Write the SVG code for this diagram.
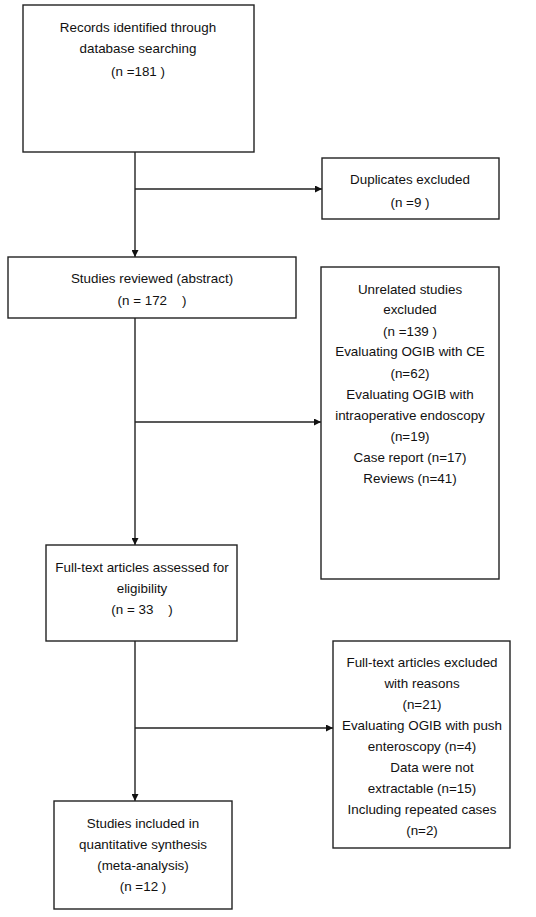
<svg xmlns="http://www.w3.org/2000/svg" width="536" height="917" viewBox="0 0 536 917">
<style>
.box{fill:#fff;stroke:#222;stroke-width:1.4}
.t{font-family:"Liberation Sans",Arial,sans-serif;font-size:13.4px;fill:#111;text-anchor:middle;white-space:pre}
.c{fill:none;stroke:#222;stroke-width:1.4}
</style>
<defs>
<marker id="ah" viewBox="0 0 10 10" refX="10" refY="5" markerWidth="7" markerHeight="7" markerUnits="userSpaceOnUse" orient="auto">
<path d="M0,0 L10,5 L0,10 z" fill="#111"/>
</marker>
</defs>
<rect width="536" height="917" fill="#fff"/>
<g id="connectors">
<path class="c" d="M135,152 V257" marker-end="url(#ah)"/>
<path class="c" d="M135,189 H322" marker-end="url(#ah)"/>
<path class="c" d="M135,318 V545" marker-end="url(#ah)"/>
<path class="c" d="M135,422 H321" marker-end="url(#ah)"/>
<path class="c" d="M135,641 V801" marker-end="url(#ah)"/>
<path class="c" d="M135,728 H333" marker-end="url(#ah)"/>
</g>
<g id="records">
<rect class="box" x="23" y="5" width="231" height="147"/>
<text class="t" x="138" y="32">Records identified through</text>
<text class="t" x="138" y="53">database searching</text>
<text class="t" x="138" y="76">(n =181 )</text>
</g>
<g id="duplicates">
<rect class="box" x="322" y="158" width="177" height="61"/>
<text class="t" x="410" y="184">Duplicates excluded</text>
<text class="t" x="410" y="207">(n =9 )</text>
</g>
<g id="reviewed">
<rect class="box" x="8" y="257" width="288" height="61"/>
<text class="t" x="152" y="283">Studies reviewed (abstract)</text>
<text class="t" x="152" y="305">(n = 172    )</text>
</g>
<g id="unrelated">
<rect class="box" x="321" y="267" width="178" height="312"/>
<text class="t" x="410" y="294">Unrelated studies</text>
<text class="t" x="410" y="314">excluded</text>
<text class="t" x="410" y="336">(n =139 )</text>
<text class="t" x="410" y="356">Evaluating OGIB with CE</text>
<text class="t" x="410" y="378">(n=62)</text>
<text class="t" x="410" y="399">Evaluating OGIB with</text>
<text class="t" x="410" y="420">intraoperative endoscopy</text>
<text class="t" x="410" y="441">(n=19)</text>
<text class="t" x="410" y="462">Case report (n=17)</text>
<text class="t" x="410" y="483">Reviews (n=41)</text>
</g>
<g id="fulltext">
<rect class="box" x="46" y="545" width="191" height="96"/>
<text class="t" x="142" y="572">Full-text articles assessed for</text>
<text class="t" x="142" y="593">eligibility</text>
<text class="t" x="142" y="614">(n = 33    )</text>
</g>
<g id="excluded">
<rect class="box" x="333" y="641" width="177" height="207"/>
<text class="t" x="422" y="667">Full-text articles excluded</text>
<text class="t" x="422" y="688">with reasons</text>
<text class="t" x="422" y="709">(n=21)</text>
<text class="t" x="422" y="730">Evaluating OGIB with push</text>
<text class="t" x="422" y="751">enteroscopy (n=4)</text>
<text class="t" x="432" y="772">Data were not</text>
<text class="t" x="422" y="793">extractable (n=15)</text>
<text class="t" x="422" y="814">Including repeated cases</text>
<text class="t" x="422" y="835">(n=2)</text>
</g>
<g id="included">
<rect class="box" x="54" y="801" width="178" height="108"/>
<text class="t" x="143" y="828">Studies included in</text>
<text class="t" x="143" y="849">quantitative synthesis</text>
<text class="t" x="143" y="870">(meta-analysis)</text>
<text class="t" x="143" y="891">(n =12 )</text>
</g>
</svg>
